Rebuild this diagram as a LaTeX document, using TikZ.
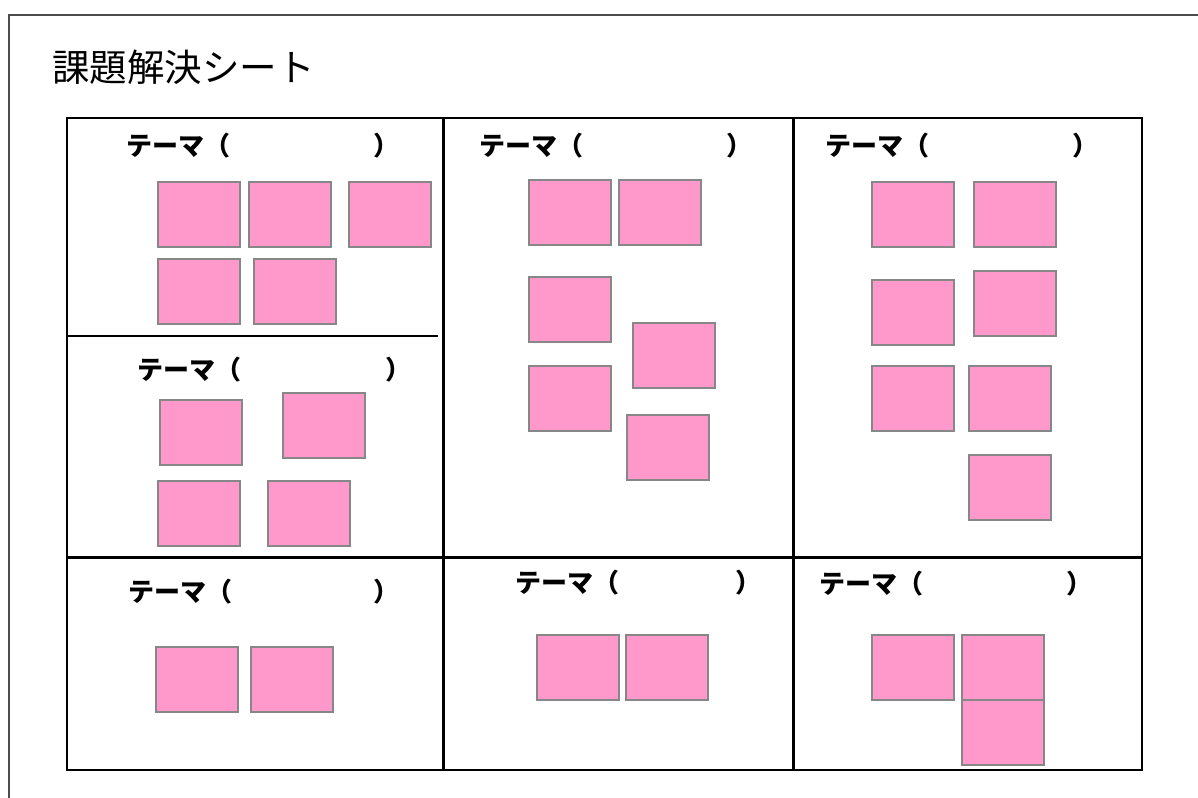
\documentclass[tikz,border=0pt]{standalone}
\usepackage{fontspec}
\newfontfamily\jp{Noto Sans CJK JP}
\tikzset{
  frame/.style={draw=black!70, line width=1.6pt},
  grid/.style={draw=black, line width=2.2pt},
  card/.style={draw=black!47, fill=cardpink, line width=1.4pt, minimum width=82pt, minimum height=65pt, inner sep=0pt, outer sep=0pt, anchor=north west},
  theme/.style={font=\jp\bfseries\fontsize{26}{26}\selectfont, inner sep=0pt, anchor=west},
  title/.style={font=\jp\fontsize{37.5}{37.5}\selectfont, inner sep=0pt, anchor=west}
}
\definecolor{cardpink}{HTML}{FF99CC}
\begin{document}
\begin{tikzpicture}[x=1pt,y=-1pt]
\useasboundingbox (0,0) rectangle (1198,797);
\fill[white] (0,0) rectangle (1198,797);
% outer frame (cropped at right and bottom)
\coordinate (fbl) at (9,800);
\coordinate (ftl) at (9,15);
\coordinate (ftr) at (1200,15);
\draw[frame] (fbl) -- (ftl) -- (ftr);
% title
\node[title] (title) at (52,67) {課題解決シート};
% table
\coordinate (tnw) at (67,118);
\coordinate (tse) at (1142,770);
\coordinate (v1t) at (443.5,118);
\coordinate (v1b) at (443.5,770);
\coordinate (v2t) at (793.5,118);
\coordinate (v2b) at (793.5,770);
\coordinate (hl) at (67,557.5);
\coordinate (hr) at (1142,557.5);
\coordinate (h2l) at (67,336);
\coordinate (h2r) at (438,336);
\draw[grid] (tnw) rectangle (tse);
\draw[grid] (v1t) -- (v1b);
\draw[grid] (v2t) -- (v2b);
\draw[grid] (hl) -- (hr);
\draw[grid] (h2l) -- (h2r);
% theme labels
\node[theme] (t1) at (126,146) {テーマ（};
\node[theme] (p1) at (373,146) {）};
\node[theme] (t2) at (479,146) {テーマ（};
\node[theme] (p2) at (726,146) {）};
\node[theme] (t3) at (825,146) {テーマ（};
\node[theme] (p3) at (1072,146) {）};
\node[theme] (t4) at (137,370) {テーマ（};
\node[theme] (p4) at (385,370) {）};
\node[theme] (t5) at (128,592) {テーマ（};
\node[theme] (p5) at (373,592) {）};
\node[theme] (t6) at (515,583) {テーマ（};
\node[theme] (p6) at (735,583) {）};
\node[theme] (t7) at (819,584) {テーマ（};
\node[theme] (p7) at (1066,584) {）};
% cards: cell 1
\node[card] (c11) at (158,182) {};
\node[card] (c12) at (249,182) {};
\node[card] (c13) at (349,182) {};
\node[card] (c14) at (158,259) {};
\node[card] (c15) at (254,259) {};
% cell 2
\node[card] (c21) at (529,180) {};
\node[card] (c22) at (619,180) {};
\node[card] (c23) at (529,277) {};
\node[card] (c24) at (633,323) {};
\node[card] (c25) at (529,366) {};
\node[card] (c26) at (627,415) {};
% cell 3
\node[card] (c31) at (872,182) {};
\node[card] (c32) at (974,182) {};
\node[card] (c33) at (872,280) {};
\node[card] (c34) at (974,271) {};
\node[card] (c35) at (872,366) {};
\node[card] (c36) at (969,366) {};
\node[card] (c37) at (969,455) {};
% cell 4
\node[card] (c41) at (160,400) {};
\node[card] (c42) at (283,393) {};
\node[card] (c43) at (158,481) {};
\node[card] (c44) at (268,481) {};
% cell 5
\node[card] (c51) at (156,647) {};
\node[card] (c52) at (251,647) {};
% cell 6
\node[card] (c61) at (537,635) {};
\node[card] (c62) at (626,635) {};
% cell 7
\node[card] (c71) at (872,635) {};
\node[card] (c72) at (962,635) {};
\node[card] (c73) at (962,700) {};
\end{tikzpicture}
\end{document}
